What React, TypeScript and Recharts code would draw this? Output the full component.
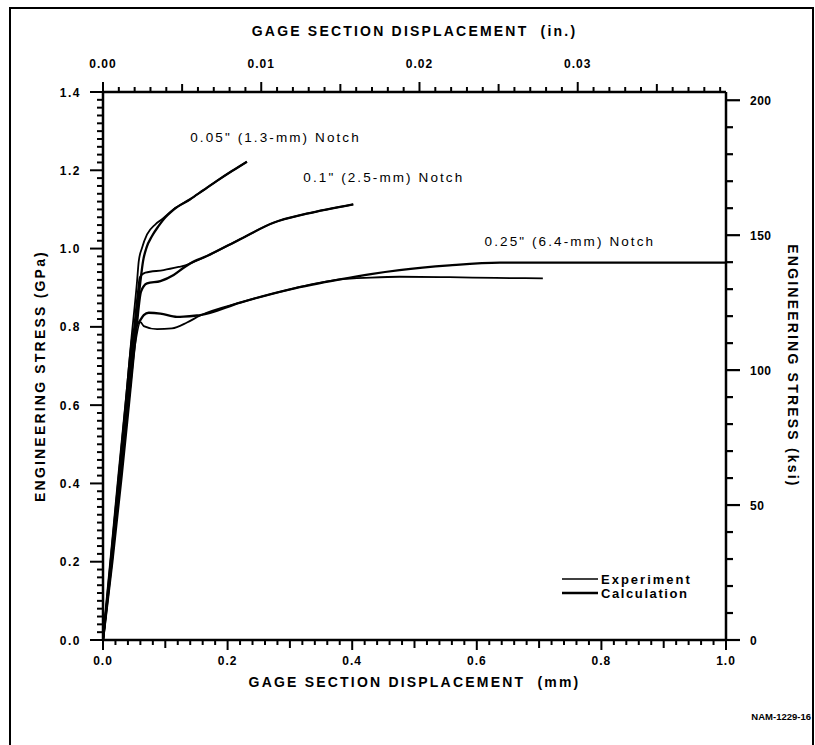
import React from 'react';
import { LineChart, Line, XAxis, YAxis, ReferenceDot, Legend } from 'recharts';

const FONT = '"Liberation Sans", Arial, sans-serif';

type Pt = { x: number; y: number };

// ---- series (x: displacement mm, y: engineering stress GPa) ----
const notch005Experiment: Pt[] = [
  { x: 0, y: 0 }, { x: 0.012, y: 0.2 }, { x: 0.024, y: 0.4 }, { x: 0.036, y: 0.6 },
  { x: 0.045, y: 0.76 }, { x: 0.0547, y: 0.917 }, { x: 0.0574, y: 0.968 }, { x: 0.0627, y: 1.002 },
  { x: 0.0707, y: 1.036 }, { x: 0.0841, y: 1.062 }, { x: 0.0948, y: 1.075 }, { x: 0.113, y: 1.1 },
  { x: 0.14, y: 1.126 }, { x: 0.161, y: 1.149 }, { x: 0.183, y: 1.173 }, { x: 0.207, y: 1.198 },
  { x: 0.231, y: 1.222 },
];
const notch005Calculation: Pt[] = [
  { x: 0, y: 0 }, { x: 0.014, y: 0.2 }, { x: 0.028, y: 0.42 }, { x: 0.042, y: 0.65 },
  { x: 0.052, y: 0.8 }, { x: 0.0601, y: 0.917 }, { x: 0.0643, y: 0.968 }, { x: 0.0697, y: 1.002 },
  { x: 0.0787, y: 1.032 }, { x: 0.0894, y: 1.058 }, { x: 0.0974, y: 1.075 }, { x: 0.113, y: 1.099 },
  { x: 0.14, y: 1.126 }, { x: 0.161, y: 1.149 }, { x: 0.183, y: 1.173 }, { x: 0.207, y: 1.198 },
  { x: 0.231, y: 1.222 },
];
const notch01Experiment: Pt[] = [
  { x: 0, y: 0 }, { x: 0.013, y: 0.2 }, { x: 0.026, y: 0.42 }, { x: 0.039, y: 0.63 },
  { x: 0.05, y: 0.8 }, { x: 0.056, y: 0.89 }, { x: 0.059, y: 0.926 }, { x: 0.068, y: 0.9385 },
  { x: 0.0974, y: 0.945 }, { x: 0.1214, y: 0.953 }, { x: 0.1321, y: 0.957 }, { x: 0.14, y: 0.962 },
  { x: 0.1668, y: 0.981 }, { x: 0.2202, y: 1.024 }, { x: 0.2736, y: 1.066 }, { x: 0.327, y: 1.089 },
  { x: 0.4017, y: 1.113 },
];
const notch01Calculation: Pt[] = [
  { x: 0, y: 0 }, { x: 0.015, y: 0.2 }, { x: 0.03, y: 0.42 }, { x: 0.044, y: 0.64 },
  { x: 0.054, y: 0.8 }, { x: 0.061, y: 0.89 }, { x: 0.0707, y: 0.911 }, { x: 0.0921, y: 0.917 },
  { x: 0.1134, y: 0.9325 }, { x: 0.1294, y: 0.951 }, { x: 0.14, y: 0.962 }, { x: 0.1668, y: 0.981 },
  { x: 0.2202, y: 1.024 }, { x: 0.2736, y: 1.066 }, { x: 0.327, y: 1.089 }, { x: 0.4017, y: 1.113 },
];
const notch025Experiment: Pt[] = [
  { x: 0, y: 0 }, { x: 0.014, y: 0.2 }, { x: 0.028, y: 0.41 }, { x: 0.042, y: 0.62 },
  { x: 0.052, y: 0.76 }, { x: 0.0601, y: 0.812 }, { x: 0.0654, y: 0.802 }, { x: 0.0868, y: 0.794 },
  { x: 0.1108, y: 0.796 }, { x: 0.1348, y: 0.811 }, { x: 0.1561, y: 0.829 }, { x: 0.2202, y: 0.862 },
  { x: 0.3003, y: 0.896 }, { x: 0.3804, y: 0.9215 }, { x: 0.43, y: 0.926 }, { x: 0.476, y: 0.928 },
  { x: 0.556, y: 0.927 }, { x: 0.63, y: 0.925 }, { x: 0.706, y: 0.924 },
];
const notch025Calculation: Pt[] = [
  { x: 0, y: 0 }, { x: 0.012, y: 0.2 }, { x: 0.025, y: 0.42 }, { x: 0.038, y: 0.63 },
  { x: 0.048, y: 0.78 }, { x: 0.059, y: 0.815 }, { x: 0.0654, y: 0.83 }, { x: 0.0734, y: 0.836 },
  { x: 0.0921, y: 0.834 }, { x: 0.1188, y: 0.8255 }, { x: 0.1294, y: 0.826 }, { x: 0.1508, y: 0.829 },
  { x: 0.1561, y: 0.83 }, { x: 0.2202, y: 0.862 }, { x: 0.3003, y: 0.896 }, { x: 0.3804, y: 0.9215 },
  { x: 0.43, y: 0.935 }, { x: 0.476, y: 0.945 }, { x: 0.556, y: 0.957 }, { x: 0.637, y: 0.964 },
  { x: 0.75, y: 0.964 }, { x: 0.9, y: 0.964 }, { x: 1.0, y: 0.964 },
];

// ---- axis ticks / labels ----
const mmMajor = [0, 0.2, 0.4, 0.6, 0.8, 1.0];
const mmLabels = ['0.0', '0.2', '0.4', '0.6', '0.8', '1.0'];
const inMajor = [0, 0.01, 0.02, 0.03];
const inLabels = ['0.00', '0.01', '0.02', '0.03'];
const gpaMajor = [0, 0.2, 0.4, 0.6, 0.8, 1.0, 1.2, 1.4];
const gpaLabels = ['0.0', '0.2', '0.4', '0.6', '0.8', '1.0', '1.2', '1.4'];
const ksiMajor = [0, 50, 100, 150, 200];
const ksiLabels = ['0', '50', '100', '150', '200'];
// extent of the secondary (inch / ksi) scales, used only to anchor those axes
const secondaryExtent = [
  { xin: 0, ksi: 0 },
  { xin: 1 / 25.4, ksi: 1.4 * 145.038 },
];

const curveLabels = [
  { x: 0.14, y: 1.283, text: '0.05" (1.3-mm) Notch' },
  { x: 0.3216, y: 1.181, text: '0.1" (2.5-mm) Notch' },
  { x: 0.6125, y: 1.018, text: '0.25" (6.4-mm) Notch' },
];
const legendLabels = ['Experiment', 'Calculation'];

const titleTop = 'GAGE SECTION DISPLACEMENT  (in.)';
const titleBottom = 'GAGE SECTION DISPLACEMENT  (mm)';
const titleLeft = 'ENGINEERING STRESS (GPa)';
const titleRight = 'ENGINEERING STRESS (ksi)';
const figureId = 'NAM-1229-16';

// minor tick positions
const mmTicks = Array.from({ length: 51 }, (_, i) => i / 50);
const inTicks = Array.from({ length: 40 }, (_, i) => i / 1000);
const gpaTicks = Array.from({ length: 71 }, (_, i) => i / 50);
const ksiTicks = Array.from({ length: 21 }, (_, i) => i * 10);

const majorIndex = (arr: number[], v: number) => arr.findIndex((m) => Math.abs(m - v) < 1e-7);

// ---- layout ----
const W = 815;
const H = 745;
const PL = 103;
const PR = 726;
const PT = 92;
const PB = 640;
const AX = 60;

const tickFont = { fontFamily: FONT, fontSize: 12, fontWeight: 700 as const, fill: '#000' };

const BottomTick = (props: any) => {
  const { x, y, payload } = props;
  const v = payload.value;
  const mi = majorIndex(mmMajor, v);
  const i = Math.round(v * 50);
  const len = mi >= 0 ? 10 : i % 5 === 0 ? 8 : 5;
  return (
    <g>
      <line x1={x} x2={x} y1={y} y2={y + len} stroke="#000" strokeWidth={2} />
      {mi >= 0 && (
        <text x={x} y={y + 25} textAnchor="middle" {...tickFont} letterSpacing={1}>
          {mmLabels[mi]}
        </text>
      )}
    </g>
  );
};

const TopTick = (props: any) => {
  const { x, y, payload } = props;
  const v = payload.value;
  const mi = majorIndex(inMajor, v);
  const i = Math.round(v * 1000);
  const len = mi >= 0 ? 10 : i % 5 === 0 ? 8 : 5;
  return (
    <g>
      <line x1={x} x2={x} y1={y} y2={y - len} stroke="#000" strokeWidth={2} />
      {mi >= 0 && (
        <text x={x} y={y - 24} textAnchor="middle" {...tickFont} letterSpacing={1}>
          {inLabels[mi]}
        </text>
      )}
    </g>
  );
};

const LeftTick = (props: any) => {
  const { x, y, payload } = props;
  const v = payload.value;
  const mi = majorIndex(gpaMajor, v);
  const len = mi >= 0 ? 13 : 6;
  return (
    <g>
      <line x1={x} x2={x - len} y1={y} y2={y} stroke="#000" strokeWidth={2} />
      {mi >= 0 && (
        <text x={x - 22} y={y + 4.5} textAnchor="end" {...tickFont} letterSpacing={1.5}>
          {gpaLabels[mi]}
        </text>
      )}
    </g>
  );
};

const RightTick = (props: any) => {
  const { x, y, payload } = props;
  const v = payload.value;
  const mi = majorIndex(ksiMajor, v);
  const len = mi >= 0 ? 14 : 7;
  return (
    <g>
      <line x1={x} x2={x + len} y1={y} y2={y} stroke="#000" strokeWidth={2.2} />
      {mi >= 0 && (
        <text x={x + 24} y={y + 4.5} textAnchor="start" {...tickFont} letterSpacing={0.5}>
          {ksiLabels[mi]}
        </text>
      )}
    </g>
  );
};

const CurveLabel = (props: any) => {
  const { cx, cy, text } = props;
  return (
    <text x={cx} y={cy + 4.5} fontFamily={FONT} fontSize={13.5} fill="#000" letterSpacing={2.1}
      style={{ whiteSpace: 'pre' }}>
      {text}
    </text>
  );
};

const LegendContent = () => (
  <svg width={160} height={34} style={{ display: 'block' }}>
    <line x1={2} x2={38} y1={9} y2={9} stroke="#000" strokeWidth={1.4} />
    <text x={41} y={13.5} fontFamily={FONT} fontSize={13} fontWeight={700} letterSpacing={2} fill="#000">
      {legendLabels[0]}
    </text>
    <line x1={2} x2={38} y1={23} y2={23} stroke="#000" strokeWidth={2.4} />
    <text x={41} y={27.5} fontFamily={FONT} fontSize={13} fontWeight={700} letterSpacing={1.6} fill="#000">
      {legendLabels[1]}
    </text>
  </svg>
);

const titleStyle = {
  fontFamily: FONT,
  fontSize: 14,
  fontWeight: 700 as const,
  fill: '#000',
  letterSpacing: 2.2,
};

const series = [
  { data: notch005Experiment, w: 1.8 },
  { data: notch005Calculation, w: 2.3 },
  { data: notch01Experiment, w: 1.8 },
  { data: notch01Calculation, w: 2.3 },
  { data: notch025Experiment, w: 1.8 },
  { data: notch025Calculation, w: 2.3 },
];

export default function App() {
  return (
    <div style={{ position: 'fixed', left: 0, top: 0, width: W, height: H, background: '#fff', overflow: 'hidden' }}>
      <div
        style={{
          position: 'absolute', left: 9, top: 7, width: 801, height: 760,
          borderLeft: '2px solid #000', borderTop: '2px solid #000', borderRight: '2px solid #000',
        }}
      />
      <div style={{ position: 'absolute', left: 0, top: 0 }}>
        <LineChart
          width={W}
          height={H}
          margin={{ top: PT - AX, bottom: H - PB - AX, left: PL - AX, right: W - PR - AX }}
        >
          <XAxis
            xAxisId="mm" dataKey="x" type="number" orientation="bottom" domain={[0, 1]}
            ticks={mmTicks} interval={0} height={AX} tickLine={false} tickSize={0} tickMargin={0}
            tick={<BottomTick />} axisLine={{ stroke: '#000', strokeWidth: 2.5 }} allowDataOverflow
          />
          <XAxis
            xAxisId="in" dataKey="xin" type="number" orientation="top" domain={[0, 1 / 25.4]}
            ticks={inTicks} interval={0} height={AX} tickLine={false} tickSize={0} tickMargin={0}
            tick={<TopTick />} axisLine={{ stroke: '#000', strokeWidth: 2.5 }} allowDataOverflow
          />
          <YAxis
            yAxisId="gpa" type="number" orientation="left" domain={[0, 1.4]}
            ticks={gpaTicks} interval={0} width={AX} tickLine={false} tickSize={0} tickMargin={0}
            tick={<LeftTick />} axisLine={{ stroke: '#000', strokeWidth: 2.5 }} allowDataOverflow
          />
          <YAxis
            yAxisId="ksi" type="number" orientation="right" domain={[0, 1.4 * 145.038]}
            ticks={ksiTicks} interval={0} width={AX} tickLine={false} tickSize={0} tickMargin={0}
            tick={<RightTick />} axisLine={{ stroke: '#000', strokeWidth: 2.5 }} allowDataOverflow
          />
          <Line
            xAxisId="in"
            yAxisId="ksi"
            data={secondaryExtent}
            dataKey="ksi"
            stroke="none"
            dot={false}
            activeDot={false}
            legendType="none"
            isAnimationActive={false}
          />
          {series.map((s, i) => (
            <Line
              key={i}
              xAxisId="mm"
              yAxisId="gpa"
              data={s.data}
              dataKey="y"
              type="monotone"
              dot={false}
              stroke="#000"
              strokeWidth={s.w}
              isAnimationActive={false}
              legendType="none"
            />
          ))}
          {curveLabels.map((c, i) => (
            <ReferenceDot
              key={'lbl' + i}
              xAxisId="mm"
              yAxisId="gpa"
              x={c.x}
              y={c.y}
              r={0}
              ifOverflow="visible"
              shape={(p: any) => <CurveLabel {...p} text={c.text} />}
            />
          ))}
          <Legend
            layout="vertical"
            align="center"
            verticalAlign="middle"
            content={<LegendContent />}
            wrapperStyle={{ left: 560, top: 570, width: 160, height: 34 }}
          />
        </LineChart>
      </div>
      <svg width={W} height={H} style={{ position: 'absolute', left: 0, top: 0, pointerEvents: 'none' }}>
        <text x={(PL + PR) / 2} y={36} textAnchor="middle" {...titleStyle} style={{ whiteSpace: 'pre' }}>
          {titleTop}
        </text>
        <text x={(PL + PR) / 2} y={687} textAnchor="middle" {...titleStyle} style={{ whiteSpace: 'pre' }}>
          {titleBottom}
        </text>
        <text x={0} y={0} textAnchor="middle" {...titleStyle} transform={`translate(45 ${(PT + PB) / 2 + 10}) rotate(-90)`}>
          {titleLeft}
        </text>
        <text x={0} y={0} textAnchor="middle" {...titleStyle} transform={`translate(788 ${(PT + PB) / 2}) rotate(90)`}>
          {titleRight}
        </text>
        <text x={811} y={720} textAnchor="end" fontFamily={FONT} fontSize={9.5} fontWeight={700} fill="#000">
          {figureId}
        </text>
      </svg>
    </div>
  );
}
